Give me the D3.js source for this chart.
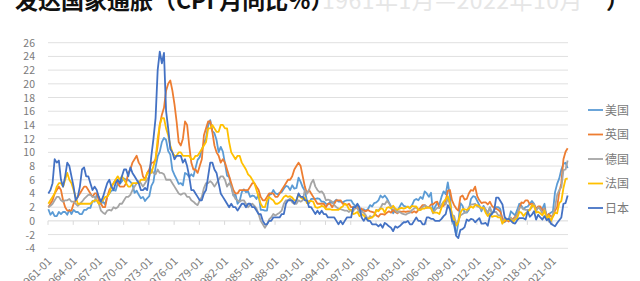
<!DOCTYPE html>
<html><head><meta charset="utf-8">
<script src="https://cdn.jsdelivr.net/npm/d3@7/dist/d3.min.js"></script>
<style>body{margin:0;background:#fff}svg{display:block}text{font-family:"Noto Sans CJK SC","Noto Sans",sans-serif}</style>
</head><body><svg id="c" width="640" height="281"></svg>
<script>
// quarterly YoY CPI (%), Jan/Apr/Jul/Oct, 1961-01 .. 2022-10
const startYear = 1961;
const seriesNames = ["美国","英国","德国","法国","日本"];
const colors = ["#5B9BD5","#ED7D31","#A5A5A5","#FFC000","#4472C4"];
const xTickLabels = ["1961-01","1964-01","1967-01","1970-01","1973-01","1976-01","1979-01","1982-01","1985-01","1988-01","1991-01","1994-01","1997-01","2000-01","2003-01","2006-01","2009-01","2012-01","2015-01","2018-01","2021-01"];
const yTicks = [-4,-2,0,2,4,6,8,10,12,14,16,18,20,22,24,26];
const us = [1.7,0.9,1.3,0.7, 0.7,1.3,1.0,1.3, 1.3,0.9,1.6,1.0, 1.6,1.3,1.3,1.0, 1.0,1.6,1.6,1.9, 1.9,2.9,2.8,3.8, 3.5,2.5,2.8,2.4, 3.6,4.0,4.4,4.5, 4.4,5.5,5.4,5.8, 6.2,6.0,6.0,5.7,
 5.3,4.1,4.4,3.8, 3.3,3.5,2.9,3.3, 3.6,5.1,5.7,7.8, 9.4,10.1,11.5,12.1, 11.8,10.2,9.7,7.4, 6.7,6.1,5.4,5.5, 5.2,7.0,6.8,6.4, 6.8,6.5,7.7,8.9, 9.3,10.4,11.3,12.1, 13.9,14.7,13.1,12.8,
 11.8,10.0,10.8,10.1, 8.4,6.6,6.4,5.1, 3.7,3.9,2.5,2.9, 4.2,4.6,4.2,4.3, 3.5,3.7,3.6,3.2, 3.9,1.6,1.6,1.5, 1.5,3.8,3.9,4.5, 4.0,3.9,4.1,4.2, 4.7,5.1,5.0,4.5, 5.2,4.7,4.8,6.3,
 5.7,4.9,4.4,2.9, 2.6,3.2,3.2,3.2, 3.3,3.2,2.8,2.8, 2.5,2.4,2.8,2.6, 2.8,3.1,2.8,2.8, 2.7,2.9,3.0,3.0, 3.0,2.5,2.2,2.1, 1.6,1.4,1.7,1.5, 1.7,2.3,2.1,2.6, 2.7,3.0,3.7,3.4,
 3.7,3.3,2.7,2.1, 1.1,1.6,1.5,2.0, 2.6,2.2,2.1,2.0, 1.9,2.3,3.0,3.2, 3.0,3.5,3.2,4.3, 4.0,3.5,4.1,1.3, 2.1,2.6,2.4,3.5, 4.3,3.9,5.6,3.7, 0.0,-0.7,-2.1,-0.2, 2.6,2.2,1.2,1.2,
 1.6,3.2,3.6,3.5, 2.9,2.3,1.4,2.2, 1.6,1.1,2.0,1.0, 1.6,2.0,2.0,1.7, -0.1,-0.2,0.2,0.2, 1.4,1.1,0.8,1.6, 2.5,2.2,1.7,2.0, 2.1,2.5,2.9,2.5, 1.6,2.0,1.8,1.8, 2.5,0.3,1.0,1.2,
 1.4,4.2,5.4,6.2, 7.5,8.3,8.5,7.7];
const uk = [2.0,2.5,3.0,4.0, 4.5,5.0,4.5,3.0, 2.0,1.5,1.5,1.5, 2.5,3.0,3.5,4.0, 4.5,5.0,5.0,4.5, 4.0,3.5,4.0,4.0, 3.0,2.5,2.0,2.0, 3.5,4.5,5.0,5.5, 6.0,5.5,5.0,5.0, 5.0,5.5,7.0,7.5,
 8.5,9.0,9.5,8.5, 8.0,6.5,6.0,7.0, 7.5,8.5,8.5,9.0, 11.0,14.0,15.5,16.5, 19.0,20.0,20.5,19.0, 17.0,14.5,11.5,11.0, 12.0,14.5,14.0,11.0, 8.5,7.5,7.5,7.0, 8.0,9.0,12.5,13.5, 14.5,14.5,13.0,11.0,
 10.0,9.5,8.5,9.0, 8.5,7.5,6.5,5.5, 4.5,4.0,4.0,4.5, 4.5,4.5,4.5,4.5, 5.0,5.5,5.5,5.0, 4.5,3.5,3.0,3.0, 3.5,4.0,4.0,4.0, 3.5,3.5,4.0,4.5, 5.0,5.5,6.0,6.0, 6.5,7.5,8.0,8.5,
 8.0,6.5,5.0,4.0, 4.5,4.0,3.5,3.0, 2.5,2.5,2.5,2.5, 2.0,2.5,2.5,2.0, 2.5,3.0,3.0,3.0, 2.5,2.5,2.3,2.5, 2.0,2.0,1.8,2.0, 1.5,1.8,1.5,1.4, 1.6,1.4,1.3,1.2, 0.8,0.6,1.0,1.0,
 0.9,1.2,1.4,1.2, 1.6,1.3,1.1,1.4, 1.3,1.4,1.3,1.4, 1.4,1.2,1.4,1.2, 1.6,1.9,2.3,2.3, 1.9,2.0,2.4,2.4, 2.7,2.8,1.9,2.1, 2.2,3.0,4.4,4.5, 3.0,2.3,1.8,1.5, 3.5,3.7,3.1,3.2,
 4.0,4.5,4.4,5.0, 3.6,3.0,2.6,2.7, 2.7,2.4,2.8,2.2, 1.9,1.8,1.6,1.3, 0.3,-0.1,0.1,-0.1, 0.3,0.3,0.6,0.9, 1.8,2.7,2.6,3.0, 3.0,2.4,2.5,2.4, 1.8,2.1,2.1,1.5, 1.8,0.8,1.0,0.7,
 0.7,1.5,2.0,4.2, 5.5,9.0,10.1,10.6];
const de = [2.0,2.2,2.5,3.0, 3.5,3.5,3.0,2.8, 3.0,3.0,3.2,2.8, 2.8,2.5,2.2,2.5, 2.8,3.2,3.5,3.8, 3.8,3.5,3.5,3.0, 2.5,1.5,1.2,1.0, 1.5,1.6,1.5,2.0, 1.8,2.0,2.5,2.5, 3.0,3.5,3.5,3.8,
 4.5,5.0,5.5,5.8, 5.5,5.0,5.5,6.0, 6.5,7.5,7.0,6.8, 7.5,7.0,7.0,6.8, 6.0,6.0,6.0,5.5, 5.0,4.5,4.0,3.8, 4.0,4.0,3.5,3.5, 3.0,2.8,2.5,2.3, 3.0,3.5,4.8,5.5, 5.5,5.8,5.5,5.0,
 5.5,6.0,6.5,6.5, 6.0,5.0,5.5,5.0, 3.8,3.2,3.0,2.8, 3.0,3.0,2.5,2.0, 2.3,2.5,2.2,1.8, 1.0,0.0,-0.5,-1.0, -0.5,0.2,0.5,1.0, 0.8,1.0,1.2,1.5, 2.5,3.0,3.0,3.3, 2.7,2.5,2.5,3.0,
 2.8,3.0,4.5,4.0, 4.5,5.5,6.0,5.0, 4.5,4.2,4.3,3.9, 3.0,3.1,3.0,2.8, 2.3,2.0,1.8,1.7, 1.6,1.5,1.5,1.3, 1.6,1.4,2.1,1.8, 1.2,1.4,1.2,0.8, 0.2,0.7,0.5,0.8, 1.6,1.5,1.9,2.5,
 2.4,2.9,2.6,2.0, 2.1,1.6,1.2,1.3, 1.1,1.0,0.9,1.1, 1.2,1.6,1.8,2.0, 1.6,1.6,2.0,2.3, 2.1,2.0,1.9,1.1, 1.6,1.9,1.9,2.4, 2.8,2.4,3.3,2.4, 0.9,0.7,-0.5,0.0, 0.8,1.0,1.2,1.3,
 2.0,2.4,2.4,2.5, 2.1,2.0,1.7,2.0, 1.7,1.2,1.9,1.2, 1.3,1.3,0.8,0.8, -0.3,0.5,0.2,0.3, 0.5,-0.1,0.4,0.8, 1.9,2.0,1.7,1.6, 1.6,1.6,2.0,2.5, 1.4,2.0,1.7,1.1, 1.7,0.8,-0.1,-0.2,
 1.0,2.0,3.8,4.5, 4.9,7.4,7.5,8.8];
const fr = [2.5,3.0,3.5,4.0, 5.0,5.5,5.5,5.0, 6.0,7.0,6.0,5.5, 4.5,3.5,2.5,2.5, 2.5,2.5,2.5,2.5, 2.5,2.8,3.0,3.0, 2.5,2.8,3.0,3.5, 3.5,4.0,5.0,5.5, 6.0,6.5,6.0,6.5, 6.0,5.5,5.0,5.0,
 5.5,5.5,5.5,5.5, 6.0,6.0,6.0,7.0, 7.0,7.0,8.0,9.0, 12.0,14.0,15.0,15.0, 13.5,12.5,11.0,10.0, 9.5,9.5,10.0,10.0, 9.5,9.5,9.5,9.5, 9.0,9.0,9.5,9.5, 10.0,10.5,11.0,11.5, 13.5,13.5,14.0,13.5,
 13.0,13.0,14.0,14.0, 13.5,13.5,11.5,10.0, 9.5,9.0,9.5,9.5, 8.5,8.0,7.5,6.8, 6.5,6.0,5.5,4.5, 3.5,2.5,2.0,2.0, 3.0,3.5,3.2,3.0, 2.5,2.5,2.7,3.0, 3.5,3.7,3.5,3.6, 3.4,3.0,3.0,3.9,
 3.4,3.2,3.4,2.6, 2.9,2.9,2.8,2.0, 1.9,2.0,2.2,2.1, 1.7,1.7,1.7,1.6, 1.6,1.6,1.6,1.9, 2.1,2.5,2.3,1.7, 1.6,1.0,1.1,1.3, 0.7,1.0,0.8,0.4, 0.3,0.4,0.5,0.8, 1.6,1.4,1.8,1.8,
 1.2,1.9,2.0,1.8, 2.2,1.8,1.6,1.8, 1.9,1.8,1.9,2.1, 1.8,2.2,2.1,2.1, 1.6,1.6,1.8,1.8, 2.0,1.9,1.9,1.2, 1.2,1.2,1.0,1.9, 2.8,3.2,3.6,2.7, 0.8,0.1,-0.7,-0.2, 1.2,1.7,1.7,1.6,
 1.8,2.1,1.9,2.3, 2.3,2.1,1.9,1.9, 1.2,0.7,1.1,0.6, 0.7,0.7,0.5,0.5, -0.4,0.1,0.2,0.1, 0.2,-0.2,0.2,0.4, 1.3,1.2,0.7,1.1, 1.3,1.6,2.3,2.2, 1.2,1.3,1.1,0.8, 1.5,0.3,0.8,0.0,
 0.6,1.2,1.1,2.6, 2.9,4.8,6.1,6.2];
const jp = [4.0,4.5,5.5,9.0, 8.5,8.8,6.0,5.0, 6.5,8.5,8.0,6.5, 5.0,3.0,3.5,5.0, 7.5,7.8,6.5,6.5, 5.5,4.5,5.0,4.5, 3.5,2.8,3.5,4.5, 5.5,6.0,5.0,4.5, 5.5,6.0,5.5,6.5, 7.5,7.5,6.5,7.8,
 7.0,6.5,6.0,5.5, 4.5,4.5,4.8,4.5, 6.5,9.5,12.0,15.0, 22.0,24.7,23.0,24.5, 16.0,13.5,10.5,10.0, 9.0,9.5,9.5,9.5, 8.5,9.0,8.0,6.5, 4.5,4.5,4.0,3.5, 3.0,3.0,4.0,4.5, 6.5,8.5,8.5,7.5,
 7.0,5.5,4.0,3.5, 3.0,2.5,2.0,2.5, 2.0,2.0,1.5,2.0, 2.5,2.5,2.0,2.5, 2.5,2.0,2.0,1.5, 1.0,1.0,0.0,-0.5, -0.5,0.0,0.0,0.5, 0.5,0.5,0.5,1.0, 1.0,2.5,3.0,3.0, 3.0,2.5,3.0,4.0,
 3.5,3.5,3.0,3.0, 2.0,2.0,1.5,1.0, 1.5,1.0,1.5,1.0, 1.0,0.5,0.5,0.5, 0.5,0.0,-0.5,0.0, -0.5,0.0,0.5,0.5, 0.5,2.0,2.0,2.5, 2.0,0.5,0.0,0.5, 0.0,0.0,-0.5,-0.5, -0.5,-0.8,-0.5,-1.0,
 -0.3,-0.5,-0.8,-1.0, -1.5,-0.8,-1.0,-0.8, -0.5,-0.2,-0.2,0.0, -0.5,-0.5,0.0,0.5, 0.0,0.0,-0.5,-0.5, 0.5,0.5,0.3,0.3, 0.0,0.0,0.0,0.3, 0.7,1.0,2.3,1.7, 0.0,-0.1,-2.2,-2.5, -1.3,-1.2,-0.9,0.2,
 0.0,0.3,0.2,-0.2, 0.1,0.4,-0.4,-0.4, -0.3,-0.7,0.7,1.1, 1.4,3.4,3.4,2.9, 2.4,0.6,0.2,0.3, 0.0,-0.3,-0.4,0.1, 0.4,0.4,0.4,0.2, 1.4,0.6,0.9,1.4, 0.2,0.9,0.5,0.2, 0.7,0.1,0.3,-0.4,
 -0.6,-0.8,-0.3,0.1, 0.5,2.5,2.6,3.7];
const seriesValues = [us, uk, de, fr, jp];

const svg = d3.select("#c");
const nMonths = 742;
const x = d3.scaleLinear().domain([0, nMonths]).range([48, 568]);
const y = d3.scaleLinear().domain([-4, 26]).range([248.3, 42.7]);

// title (cut off at top in the reference)
svg.append("text").attr("x", 15).attr("y", 9).attr("font-size", 23).attr("font-weight", "bold").attr("fill", "#111")
  .text("发达国家通胀（CPI 月同比%）");
svg.append("text").attr("x", 322).attr("y", 9).attr("font-size", 23).attr("fill", "#e6e6e6").attr("letter-spacing", 0.5)
  .text("1961年1月—2022年10月");
svg.append("text").attr("x", 606).attr("y", 9).attr("font-size", 23).attr("font-weight", "bold").attr("fill", "#111").text("）");

// gridlines
svg.append("g").selectAll("line").data(yTicks.filter(v => v !== 0)).join("line")
  .attr("x1", 48).attr("x2", 568).attr("y1", d => y(d)).attr("y2", d => y(d))
  .attr("stroke", "#e0e0e0").attr("stroke-width", 1);
// y labels
svg.append("g").selectAll("text").data(yTicks).join("text")
  .attr("x", 35).attr("y", d => y(d) + 4).attr("text-anchor", "end")
  .attr("font-size", 10.5).attr("fill", "#7a7a7a").attr("font-family", "Arial, 'Liberation Sans', sans-serif")
  .text(d => d);
// category axis at 0
svg.append("line").attr("x1", 48).attr("x2", 568).attr("y1", y(0)).attr("y2", y(0)).attr("stroke", "#d9d9d9");
const tickMonths = xTickLabels.map(l => (+l.slice(0, 4) - startYear) * 12);
svg.append("g").selectAll("line").data(tickMonths).join("line")
  .attr("x1", d => x(d)).attr("x2", d => x(d)).attr("y1", y(0)).attr("y2", y(0) + 4).attr("stroke", "#d9d9d9");
// x labels
svg.append("g").selectAll("text").data(xTickLabels).join("text")
  .attr("transform", (l, i) => `translate(${x(tickMonths[i] + 0.5) + 4},${262}) rotate(-45)`)
  .attr("text-anchor", "end").attr("font-size", 11).attr("fill", "#7a7a7a")
  .attr("font-family", "Arial, 'Liberation Sans', sans-serif").text(d => d);

// lines
const line = d3.line().x((d, i) => x(i * 3 + 0.5)).y(d => y(d)).curve(d3.curveLinear);
svg.append("g").selectAll("path").data(seriesValues).join("path")
  .attr("d", d => line(d)).attr("fill", "none")
  .attr("stroke", (d, i) => colors[i]).attr("stroke-width", 1.8).attr("stroke-linejoin", "round");

// legend
const lg = svg.append("g").selectAll("g").data(seriesNames).join("g")
  .attr("transform", (d, i) => `translate(588,${110 + i * 24.5})`);
lg.append("line").attr("x1", 0).attr("x2", 15).attr("stroke", (d, i) => colors[i]).attr("stroke-width", 1.8);
lg.append("text").attr("x", 17).attr("y", 4.5).attr("font-size", 12).attr("fill", "#7a7a7a").text(d => d);
</script></body></html>
